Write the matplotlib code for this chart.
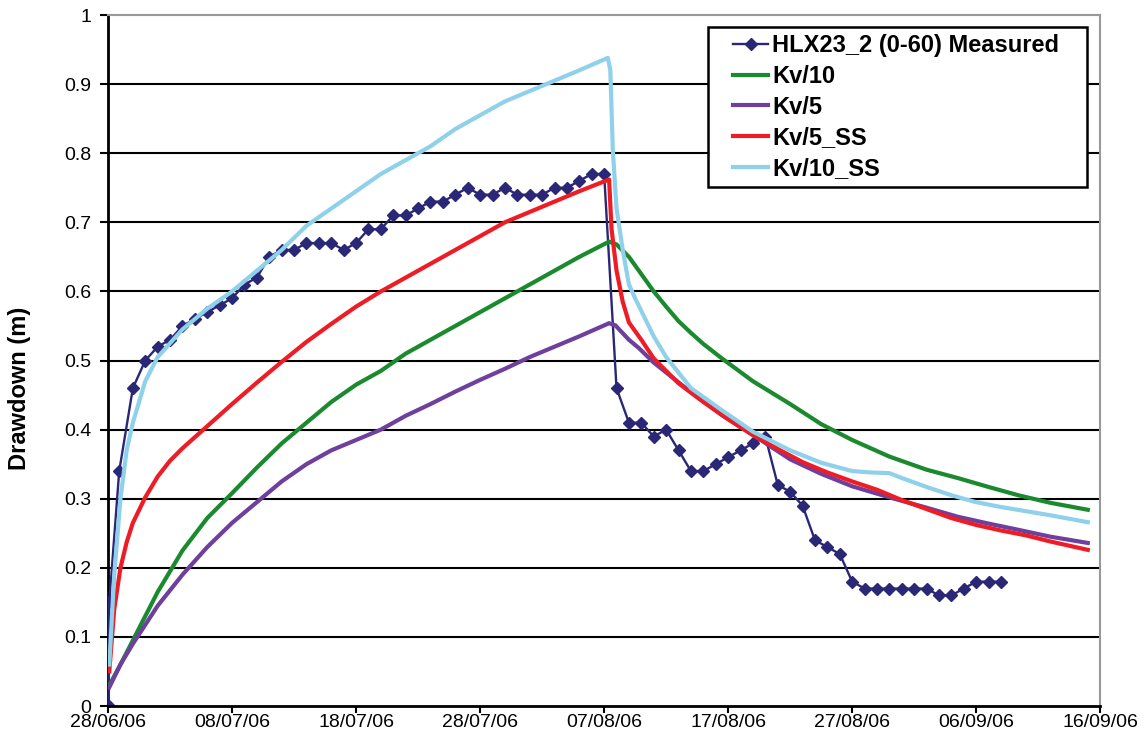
import datetime as dt
import matplotlib
matplotlib.use("Agg")
import matplotlib.pyplot as plt
import matplotlib.dates as mdates
from matplotlib.patches import Rectangle

START = dt.datetime(2006, 6, 28)

# Measured drawdown, HLX23_2 (0-60): day offsets from 28/06/06 and values (m)
measured_days = [0.05, 0.1, 0.9] + list(range(2, 41)) + list(range(41, 73))
measured_vals = [
    0.00, 0.15, 0.34,
    0.46, 0.50, 0.52, 0.53, 0.55, 0.56, 0.57, 0.58, 0.59, 0.61,
    0.62, 0.65, 0.66, 0.66, 0.67, 0.67, 0.67, 0.66, 0.67, 0.69,
    0.69, 0.71, 0.71, 0.72, 0.73, 0.73, 0.74, 0.75, 0.74, 0.74,
    0.75, 0.74, 0.74, 0.74, 0.75, 0.75, 0.76, 0.77, 0.77,
    0.46, 0.41, 0.41, 0.39, 0.40, 0.37, 0.34, 0.34, 0.35, 0.36,
    0.37, 0.38, 0.39, 0.32, 0.31, 0.29, 0.24, 0.23, 0.22, 0.18,
    0.17, 0.17, 0.17, 0.17, 0.17, 0.17, 0.16, 0.16, 0.17, 0.18,
    0.18, 0.18,
]

# Simulated drawdown, Kv/10
kv10_days = [0.1, 1, 2, 4, 6, 8, 10, 12, 14, 16, 18, 20, 22, 24, 26, 28, 30,
             32, 34, 36, 38, 40.4, 41, 42, 43, 44, 45, 46, 47, 48, 49.5, 52,
             55, 57.5, 60, 63, 66, 68.5, 71, 73.4, 76, 79]
kv10_vals = [0.03, 0.06, 0.095, 0.165, 0.225, 0.272, 0.308, 0.345, 0.38,
             0.41, 0.44, 0.465, 0.485, 0.51, 0.53, 0.55, 0.57, 0.59, 0.61,
             0.63, 0.65, 0.672, 0.668, 0.65, 0.625, 0.60, 0.578, 0.557, 0.54,
             0.524, 0.503, 0.47, 0.437, 0.408, 0.385, 0.361, 0.342, 0.33,
             0.317, 0.305, 0.294, 0.284]

# Simulated drawdown, Kv/5
kv5_days = [0.1, 1, 2, 4, 6, 8, 10, 12, 14, 16, 18, 20, 22, 24, 26, 28, 30,
            32, 34, 36, 38, 40.4, 40.9, 42, 42.8, 44, 46.8, 49.5, 52.2, 55,
            57.5, 60, 63, 66, 68.5, 71, 73.4, 76, 79]
kv5_vals = [0.027, 0.06, 0.09, 0.145, 0.19, 0.23, 0.265, 0.295, 0.325, 0.35,
            0.37, 0.385, 0.40, 0.42, 0.437, 0.455, 0.472, 0.488, 0.505, 0.52,
            0.535, 0.554, 0.551, 0.53, 0.518, 0.497, 0.457, 0.421, 0.39,
            0.357, 0.336, 0.318, 0.302, 0.287, 0.274, 0.264, 0.255, 0.245,
            0.236]

# Simulated drawdown, Kv/5_SS
kv5ss_days = [0.1, 0.5, 1, 1.5, 2, 3, 4, 5, 6, 8, 10, 12, 14, 16, 18, 20, 22,
              24, 26, 28, 30, 32, 34, 36, 38, 40.4, 40.6, 41, 41.5, 42, 43,
              44, 46, 48, 50, 52, 54, 56, 58, 60, 62, 64, 66, 68, 70, 72, 74,
              76, 78, 79]
kv5ss_vals = [0.05, 0.14, 0.20, 0.237, 0.265, 0.302, 0.332, 0.355, 0.373,
              0.405, 0.437, 0.468, 0.498, 0.527, 0.553, 0.578, 0.60, 0.62,
              0.64, 0.66, 0.68, 0.70, 0.715, 0.73, 0.745, 0.762, 0.69, 0.63,
              0.585, 0.555, 0.53, 0.503, 0.467, 0.44, 0.415, 0.392, 0.372,
              0.353, 0.338, 0.325, 0.313, 0.298, 0.285, 0.272, 0.262, 0.254,
              0.247, 0.238, 0.23, 0.226]

# Simulated drawdown, Kv/10_SS
kv10ss_days = [0.1, 0.5, 1, 1.5, 2, 3, 4, 6, 8, 10, 12, 14, 16, 18, 20, 22,
               24, 26, 28, 30, 32, 34, 36, 38, 40.3, 40.5, 40.7, 41, 41.5,
               42, 42.5, 44, 45, 47, 49.5, 52, 55, 57.5, 60, 61.5, 63, 64,
               66, 68, 70, 72, 74, 76, 79]
kv10ss_vals = [0.06, 0.19, 0.30, 0.37, 0.41, 0.47, 0.505, 0.545, 0.575, 0.60,
               0.63, 0.66, 0.695, 0.72, 0.745, 0.77, 0.79, 0.81, 0.835, 0.855,
               0.875, 0.89, 0.905, 0.92, 0.938, 0.92, 0.805, 0.72, 0.66, 0.61,
               0.59, 0.535, 0.505, 0.46, 0.428, 0.397, 0.37, 0.352, 0.34,
               0.338, 0.337, 0.33, 0.317, 0.305, 0.295, 0.288, 0.282, 0.276,
               0.266]

x_tick_days = list(range(0, 81, 10))
y_ticks = [0, 0.1, 0.2, 0.3, 0.4, 0.5, 0.6, 0.7, 0.8, 0.9, 1]


def to_dates(days):
    return [START + dt.timedelta(days=d) for d in days]


plt.rcParams["font.family"] = ["Liberation Sans", "DejaVu Sans"]

W, H = 1147.0, 751.0
fig = plt.figure(figsize=(W / 100, H / 100), dpi=100)
ax = fig.add_axes([0.0942, 0.0599, 0.865, 0.9201])

for y in y_ticks[1:-1]:
    ax.axhline(y, color="black", lw=1.5, zorder=1)

ax.plot(to_dates(measured_days), measured_vals, color="#2A2777", lw=1.7,
        marker="D", ms=6, mec="#2A2777", mfc="#2A2777",
        label="HLX23_2 (0-60) Measured", zorder=3)
ax.plot(to_dates(kv10_days), kv10_vals, color="#1B8A2F", lw=3.0,
        label="Kv/10", zorder=4)
ax.plot(to_dates(kv5_days), kv5_vals, color="#6E3F9C", lw=3.0,
        label="Kv/5", zorder=5)
ax.plot(to_dates(kv5ss_days), kv5ss_vals, color="#EE1C25", lw=3.0,
        label="Kv/5_SS", zorder=6)
ax.plot(to_dates(kv10ss_days), kv10ss_vals, color="#8FD0EA", lw=3.0,
        label="Kv/10_SS", zorder=7)

ax.set_xlim(START, START + dt.timedelta(days=80))
ax.set_ylim(0, 1)
ax.set_xticks(to_dates(x_tick_days))
ax.xaxis.set_major_formatter(mdates.DateFormatter("%d/%m/%y"))
ax.set_yticks(y_ticks)
ax.set_yticklabels(["0" if v == 0 else ("1" if v == 1 else f"{v:.1f}")
                    for v in y_ticks])

for lab in ax.get_xticklabels() + ax.get_yticklabels():
    lab.set_fontfamily(["Liberation Sans Narrow", "Liberation Sans"])
    lab.set_fontsize(14)

ax.tick_params(axis="x", direction="out", length=5, width=1.5, pad=1,
               color="black")
ax.tick_params(axis="y", direction="out", length=6, width=1.5, pad=6,
               color="black")

for side in ("top", "right"):
    ax.spines[side].set_color("#999999")
    ax.spines[side].set_linewidth(1.5)
for side in ("left", "bottom"):
    ax.spines[side].set_color("black")
    ax.spines[side].set_linewidth(2)
ax.spines["bottom"].set_zorder(8)

ax.set_ylabel("Drawdown (m)", fontsize=17, fontweight="bold")
ax.yaxis.label.set_verticalalignment("center")
ax.yaxis.set_label_coords(-(108 - 19) / 992.0, 0.46)

# Legend box, then the entries drawn inside it
box = Rectangle((708 / W, 1 - 187 / H), (1087 - 708) / W, 160 / H,
                transform=fig.transFigure, facecolor="white",
                edgecolor="black", linewidth=1.8, zorder=9)
ax.add_artist(box)
box.set_clip_on(False)

leg = ax.legend(loc="upper left", bbox_to_anchor=(733 / W, 1 - 34 / H),
                bbox_transform=fig.transFigure, frameon=False,
                prop=dict(weight="bold", size=17), handlelength=1.5,
                handletextpad=0.15, borderpad=0, labelspacing=0.33,
                borderaxespad=0)
leg.set_zorder(10)

fig.savefig("out.png", dpi=100)
